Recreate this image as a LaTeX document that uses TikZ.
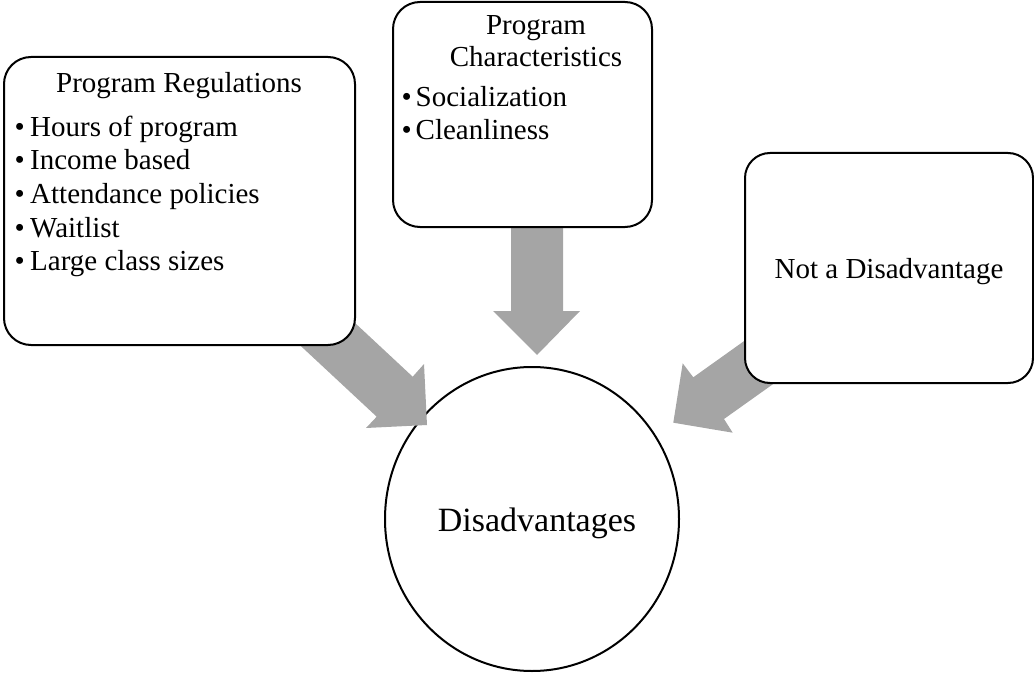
\documentclass[tikz,border=0pt]{standalone}
\usepackage{fontspec}
\setmainfont{Liberation Serif}
\usetikzlibrary{shapes.geometric}
\definecolor{arrowgray}{HTML}{A5A5A5}
\begin{document}
\begin{tikzpicture}[x=1pt,y=-1pt,
  box/.style={draw=black,line width=2pt,fill=white,rounded corners=27pt,inner sep=0pt},
  arr/.style={fill=arrowgray,draw=none},
  txt/.style={inner sep=0pt,font=\fontsize{29}{33}\selectfont},
  bigtxt/.style={inner sep=0pt,font=\fontsize{34}{40}\selectfont}]
\useasboundingbox (0,0) rectangle (1034,674);
% circle
\node[ellipse,draw=black,line width=2pt,fill=white,minimum width=294pt,minimum height=304pt,inner sep=0pt] (dis) at (532,519) {};
% arrows
\fill[arr] (325,295) -- (412.7,376.7) -- (424,364) -- (427,425) -- (366,428) -- (376.7,416.7) -- (289,335) -- cycle;
\fill[arr] (511,200) -- (511,311) -- (493,311) -- (537,355) -- (580,311) -- (563,311) -- (563,200) -- cycle;
\fill[arr] (775,319) -- (693.3,377.3) -- (682.7,363.3) -- (673.3,422.7) -- (732.7,432.7) -- (724,419) -- (805.5,361) -- cycle;
% boxes
\node[box,minimum width=351pt,minimum height=288pt] (reg) at (179.5,201) {};
\node[box,minimum width=259pt,minimum height=225pt] (cha) at (522.5,114.5) {};
\node[box,minimum width=288pt,minimum height=230pt,rounded corners=25pt] (not) at (889,268) {};
% box 1 text
\node[txt,anchor=base] (regt) at (179,93) {Program Regulations};
\node[txt,anchor=base west] (b1) at (14.5,137) {•};
\node[txt,anchor=base west] (r1) at (30,137) {Hours of program};
\node[txt,anchor=base west] (b2) at (14.5,170) {•};
\node[txt,anchor=base west] (r2) at (30,170) {Income based};
\node[txt,anchor=base west] (b3) at (14.5,203.5) {•};
\node[txt,anchor=base west] (r3) at (30,203.5) {Attendance policies};
\node[txt,anchor=base west] (b4) at (14.5,237) {•};
\node[txt,anchor=base west] (r4) at (30,237) {Waitlist};
\node[txt,anchor=base west] (b5) at (14.5,270) {•};
\node[txt,anchor=base west] (r5) at (30,270) {Large class sizes};
% box 2 text
\node[txt,anchor=base] (chat1) at (536,35) {Program};
\node[txt,anchor=base] (chat2) at (536,67) {Characteristics};
\node[txt,anchor=base west] (c1b) at (401.5,107) {•};
\node[txt,anchor=base west] (c1) at (415.5,107) {Socialization};
\node[txt,anchor=base west] (c2b) at (401.5,140) {•};
\node[txt,anchor=base west] (c2) at (415.5,140) {Cleanliness};
% box 3 text
\node[txt,anchor=base] (nott) at (889,278) {Not a Disadvantage};
% circle text
\node[bigtxt,anchor=base] (dist) at (537,531.5) {Disadvantages};
\end{tikzpicture}
\end{document}
